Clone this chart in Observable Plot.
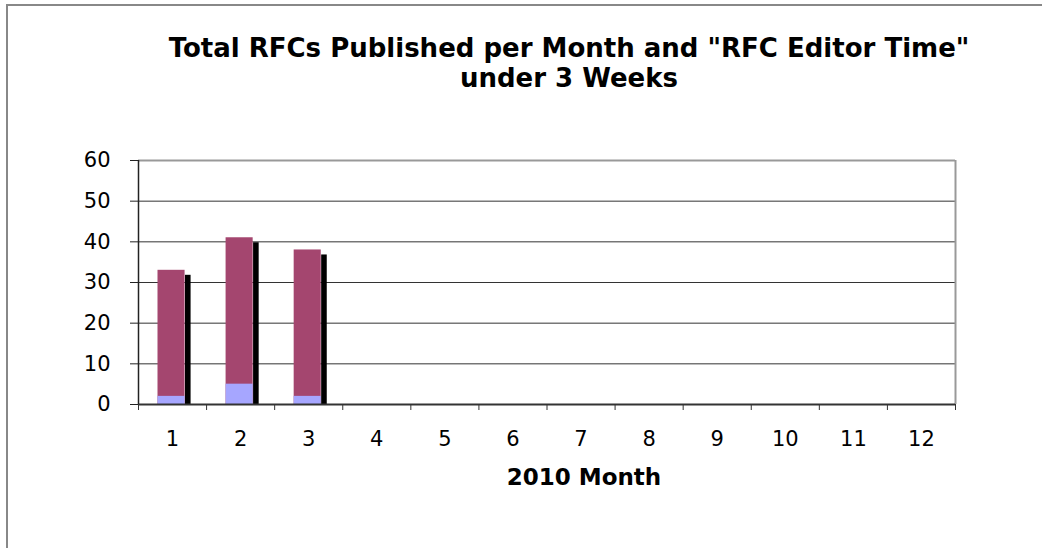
<!DOCTYPE html>
<html>
<head>
<meta charset="utf-8">
<script src="https://cdn.jsdelivr.net/npm/d3@7"></script>
<script src="https://cdn.jsdelivr.net/npm/@observablehq/plot@0.6"></script>
<style>
  html, body { margin: 0; padding: 0; background: #fff; }
  #wrap { position: relative; width: 1042px; height: 548px; overflow: hidden; font-family: "DejaVu Sans", Verdana, sans-serif; }
  #frame { position: absolute; left: 6px; top: 4px; width: 1200px; height: 700px; border-top: 2px solid #888; border-left: 2px solid #888; }
  #title { position: absolute; left: 69px; top: 33px; width: 1000px; text-align: center; font-weight: bold; font-size: 26px; line-height: 30px; color: #000; }
  #xlabel { position: absolute; left: 384px; top: 463px; width: 400px; text-align: center; font-weight: bold; font-size: 23px; line-height: 28px; color: #000; }
  #chart { position: absolute; left: 0; top: 0; }
</style>
</head>
<body>
<div id="wrap">
  <div id="frame"></div>
  <div id="chart"></div>
  <div id="title">Total RFCs Published per Month and "RFC Editor Time"<br>under 3 Weeks</div>
  <div id="xlabel">2010 Month</div>
</div>
<script>
const months = [1, 2, 3];
const totalRFCs = [33, 41, 38];
const under3Weeks = [2, 5, 2];
const monthTicks = [1, 2, 3, 4, 5, 6, 7, 8, 9, 10, 11, 12];
const yTicks = [0, 10, 20, 30, 40, 50, 60];

const data = months.map((m, i) => ({month: m, total: totalRFCs[i], under: under3Weeks[i]}));
const boundaries = monthTicks.map(m => m - 0.5).concat([monthTicks[monthTicks.length - 1] + 0.5]);

const chart = Plot.plot({
  width: 1042,
  height: 548,
  marginLeft: 138,
  marginRight: 87,
  marginTop: 160,
  marginBottom: 144,
  style: {fontFamily: "DejaVu Sans, Verdana, sans-serif", background: "transparent", color: "#000"},
  x: {type: "linear", domain: [0.5, 12.5]},
  y: {domain: [0, 60]},
  marks: [
    Plot.ruleY([10, 20, 30, 40, 50], {stroke: "#333", strokeWidth: 1}),
    Plot.ruleY([60], {stroke: "#999", strokeWidth: 2}),
    Plot.ruleX([12.5], {stroke: "#999", strokeWidth: 2}),
    Plot.rectY(data, {x1: d => d.month - 0.5, x2: d => d.month + 0.5, y1: 0, y2: "total", fill: "#000", insetLeft: 47, insetRight: 15.5, insetTop: 5}),
    Plot.rectY(data, {x1: d => d.month - 0.5, x2: d => d.month + 0.5, y1: 0, y2: "total", fill: "#A4466F", insetLeft: 19.5, insetRight: 21.5}),
    Plot.rectY(data, {x1: d => d.month - 0.5, x2: d => d.month + 0.5, y1: 0, y2: "under", fill: "#A6A6FF", insetLeft: 19.5, insetRight: 21.5}),
    Plot.ruleY([0], {stroke: "#333", strokeWidth: 2}),
    Plot.ruleX([0.5], {stroke: "#222", strokeWidth: 1.5}),
    Plot.axisY({ticks: yTicks, tickSize: 8, tickPadding: 20, fontSize: 21, label: null, stroke: "#222"}),
    Plot.axisX({ticks: boundaries, tickFormat: () => "", tickSize: 6, label: null, stroke: "#333"}),
    Plot.axisX({ticks: monthTicks, tickSize: 0, tickPadding: 27, fontSize: 21, label: null, tickFormat: d => String(d)})
  ]
});
document.getElementById("chart").appendChild(chart);
</script>
</body>
</html>
